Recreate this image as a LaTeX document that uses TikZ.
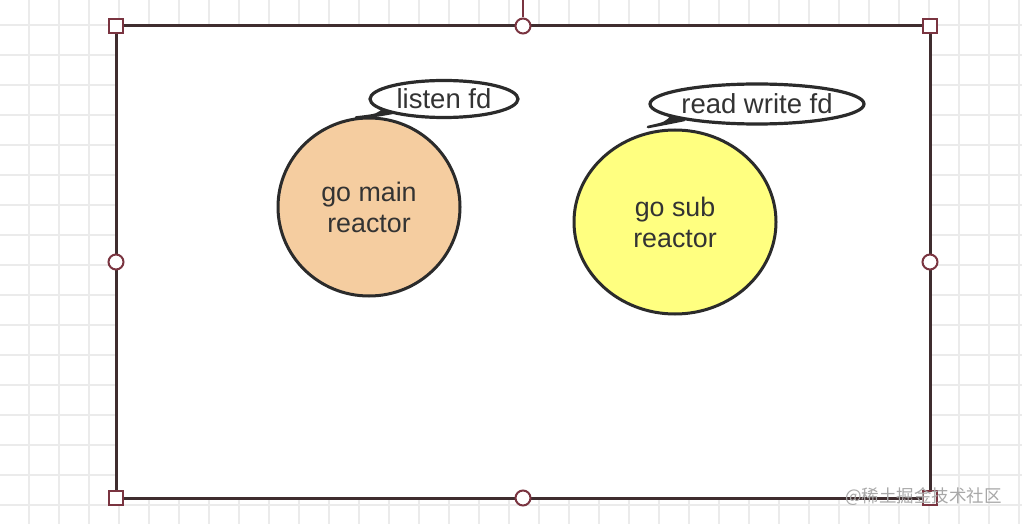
\documentclass[tikz,border=0pt]{standalone}
\usepackage{fontspec}
\setmainfont{Liberation Sans}
\newfontfamily\cjk{Noto Sans CJK SC}
\usetikzlibrary{shapes.geometric}
\definecolor{gridc}{HTML}{EBEBEB}
\definecolor{framec}{HTML}{3F2D2F}
\definecolor{handlec}{HTML}{7A3440}
\definecolor{inkc}{HTML}{2B2B2B}
\definecolor{textc}{HTML}{333333}
\definecolor{orangec}{HTML}{F5CDA0}
\definecolor{yellowc}{HTML}{FFFF80}
\definecolor{wmc}{HTML}{A8A8A8}
\tikzset{
  gridline/.style={draw=gridc, line width=1.6pt},
  frameline/.style={draw=framec, line width=3pt},
  sqhandle/.style={draw=handlec, fill=white, line width=2pt, minimum size=14pt, inner sep=0pt, rectangle},
  cirhandle/.style={draw=handlec, fill=white, line width=2pt, minimum size=15pt, inner sep=0pt, circle},
  reactor/.style={ellipse, draw=inkc, line width=3pt, inner sep=0pt, text=textc, align=center,
    font=\fontsize{26.8}{31}\selectfont},
  bubble/.style={ellipse, draw=inkc, fill=white, line width=3.2pt, inner sep=0pt, text=textc,
    font=\fontsize{27.5}{30}\selectfont},
  tail/.style={draw=inkc, fill=inkc, line width=2.6pt, line join=round},
}
\begin{document}
\begin{tikzpicture}[x=1pt,y=-1pt]
\useasboundingbox (0,0) rectangle (1022,524);
\fill[white] (0,0) rectangle (1022,524);
% grid
\foreach \gx in {-1,29,...,1022} {\draw[gridline] (\gx,0) -- (\gx,524);}
\foreach \gy in {25,55,...,524} {\draw[gridline] (0,\gy) -- (1022,\gy);}
% top connector line
\coordinate (topend) at (523,0);
% frame
\draw[frameline, fill=white] (116,26) rectangle (930,498);
\node[cirhandle] (htop) at (523,26) {};
\draw[draw=handlec, line width=1.6pt] (topend) -- (htop.north);
\node[sqhandle] (htl) at (116,26) {};
\node[sqhandle] (htr) at (930,26) {};
\node[sqhandle] (hbl) at (116,498) {};
\node[sqhandle] (hbr) at (930,498) {};
\node[cirhandle] (hl) at (116,262) {};
\node[cirhandle] (hr) at (930,262) {};
\node[cirhandle] (hb) at (523,498) {};
% reactors
\node[reactor, fill=orangec, minimum width=182pt, minimum height=178pt] (main) at (369,207) {go main\\reactor};
\node[reactor, fill=yellowc, minimum width=202pt, minimum height=184pt] (sub) at (675,222) {go sub\\reactor};
% bubble 1
\draw[tail] (385,108) .. controls (378,115) .. (356,117.5) .. controls (375,116) .. (397,112) -- cycle;
\node[bubble, minimum width=148pt, minimum height=37pt] (b1) at (444,99) {listen fd};
% bubble 2
\draw[tail] (672,116) .. controls (666,123) .. (648,127) .. controls (664,124) .. (684,120) -- cycle;
\node[bubble, minimum width=211pt, minimum height=40pt] (b2) at (757,104) {read write fd};
% watermark
\node[anchor=west, text=wmc, font=\cjk\fontsize{17.5}{18}\selectfont, inner sep=0pt] (wm) at (845,497) {@稀土掘金技术社区};
\end{tikzpicture}
\end{document}
